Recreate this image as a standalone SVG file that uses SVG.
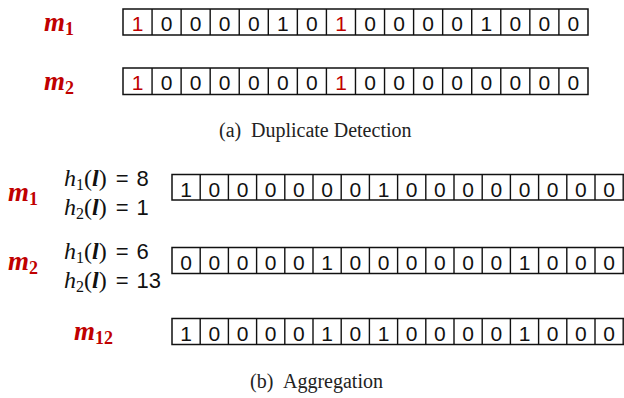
<svg xmlns="http://www.w3.org/2000/svg" width="624" height="398" viewBox="0 0 624 398">
<style>
.c{fill:#fff;stroke:#111;stroke-width:1.5}
.d{font-family:"Liberation Sans",Arial,sans-serif;font-size:21px;fill:#111;text-anchor:middle}
.r{fill:#c00000}
.m{font-family:"Liberation Serif","Times New Roman",serif;font-weight:bold;font-style:italic;font-size:27px;fill:#c00000}
.ms{font-style:normal;font-size:18px}
.h{font-family:"Liberation Serif","Times New Roman",serif;font-size:24px;fill:#111}
.hi{font-style:italic}
.hs{font-size:16px}
.hb{font-weight:bold;font-style:italic}
.hn{font-family:"Liberation Sans",Arial,sans-serif;font-size:22px}
.cap{font-family:"Liberation Serif","Times New Roman",serif;font-size:20px;fill:#222}
</style>
<rect width="624" height="398" fill="#fff"/>

<!-- (a) Duplicate Detection -->
<g id="label-a-m1"><text class="m" x="44" y="31">m<tspan class="ms" dy="4">1</tspan></text></g>
<g id="row-a-m1">
<rect class="c" x="123" y="9" width="465" height="26"/>
<path d="M152.06 9V35M181.12 9V35M210.18 9V35M239.24 9V35M268.3 9V35M297.36 9V35M326.42 9V35M355.48 9V35M384.54 9V35M413.6 9V35M442.66 9V35M471.72 9V35M500.78 9V35M529.84 9V35M558.9 9V35" stroke="#111" stroke-width="1.4"/>
<text class="d" y="30.5"><tspan x="137.5" class="r">1</tspan><tspan x="166.6">0</tspan><tspan x="195.7">0</tspan><tspan x="224.7">0</tspan><tspan x="253.8">0</tspan><tspan x="282.8">1</tspan><tspan x="311.9">0</tspan><tspan x="341" class="r">1</tspan><tspan x="370">0</tspan><tspan x="399.1">0</tspan><tspan x="428.1">0</tspan><tspan x="457.2">0</tspan><tspan x="486.3">1</tspan><tspan x="515.3">0</tspan><tspan x="544.4">0</tspan><tspan x="573.4">0</tspan></text>
</g>

<g id="label-a-m2"><text class="m" x="44" y="90">m<tspan class="ms" dy="4">2</tspan></text></g>
<g id="row-a-m2">
<rect class="c" x="123" y="68" width="465" height="26.5"/>
<path d="M152.06 68V94.5M181.12 68V94.5M210.18 68V94.5M239.24 68V94.5M268.3 68V94.5M297.36 68V94.5M326.42 68V94.5M355.48 68V94.5M384.54 68V94.5M413.6 68V94.5M442.66 68V94.5M471.72 68V94.5M500.78 68V94.5M529.84 68V94.5M558.9 68V94.5" stroke="#111" stroke-width="1.4"/>
<text class="d" y="89.5"><tspan x="137.5" class="r">1</tspan><tspan x="166.6">0</tspan><tspan x="195.7">0</tspan><tspan x="224.7">0</tspan><tspan x="253.8">0</tspan><tspan x="282.8">0</tspan><tspan x="311.9">0</tspan><tspan x="341" class="r">1</tspan><tspan x="370">0</tspan><tspan x="399.1">0</tspan><tspan x="428.1">0</tspan><tspan x="457.2">0</tspan><tspan x="486.3">0</tspan><tspan x="515.3">0</tspan><tspan x="544.4">0</tspan><tspan x="573.4">0</tspan></text>
</g>

<g id="caption-a"><text class="cap" x="219" y="137">(a)</text><text class="cap" x="251" y="137">Duplicate Detection</text></g>

<!-- (b) Aggregation -->
<g id="label-b-m1"><text class="m" x="8" y="201">m<tspan class="ms" dy="4">1</tspan></text></g>
<g id="hash-m1">
<text class="h" x="64" y="186"><tspan class="hi">h</tspan><tspan class="hs" dy="4">1</tspan><tspan dy="-4">(</tspan><tspan class="hb">l</tspan><tspan>)</tspan><tspan class="hn" dx="9">=</tspan><tspan class="hn" dx="8">8</tspan></text>
<text class="h" x="64" y="215"><tspan class="hi">h</tspan><tspan class="hs" dy="4">2</tspan><tspan dy="-4">(</tspan><tspan class="hb">l</tspan><tspan>)</tspan><tspan class="hn" dx="9">=</tspan><tspan class="hn" dx="8">1</tspan></text>
</g>
<g id="row-b-m1">
<rect class="c" x="172" y="174.5" width="460" height="25.5"/>
<path d="M200.2 174.5V200M228.4 174.5V200M256.6 174.5V200M284.8 174.5V200M313 174.5V200M341.2 174.5V200M369.4 174.5V200M397.6 174.5V200M425.8 174.5V200M454 174.5V200M482.2 174.5V200M510.4 174.5V200M538.6 174.5V200M566.8 174.5V200M595 174.5V200M623.2 174.5V200" stroke="#111" stroke-width="1.4"/>
<text class="d" y="196.5"><tspan x="186.1">1</tspan><tspan x="214.3">0</tspan><tspan x="242.5">0</tspan><tspan x="270.7">0</tspan><tspan x="298.9">0</tspan><tspan x="327.1">0</tspan><tspan x="355.3">0</tspan><tspan x="383.5">1</tspan><tspan x="411.7">0</tspan><tspan x="439.9">0</tspan><tspan x="468.1">0</tspan><tspan x="496.3">0</tspan><tspan x="524.5">0</tspan><tspan x="552.7">0</tspan><tspan x="580.9">0</tspan><tspan x="609.1">0</tspan></text>
</g>

<g id="label-b-m2"><text class="m" x="8" y="270">m<tspan class="ms" dy="4">2</tspan></text></g>
<g id="hash-m2">
<text class="h" x="64" y="259"><tspan class="hi">h</tspan><tspan class="hs" dy="4">1</tspan><tspan dy="-4">(</tspan><tspan class="hb">l</tspan><tspan>)</tspan><tspan class="hn" dx="9">=</tspan><tspan class="hn" dx="8">6</tspan></text>
<text class="h" x="64" y="288"><tspan class="hi">h</tspan><tspan class="hs" dy="4">2</tspan><tspan dy="-4">(</tspan><tspan class="hb">l</tspan><tspan>)</tspan><tspan class="hn" dx="9">=</tspan><tspan class="hn" dx="8">13</tspan></text>
</g>
<g id="row-b-m2">
<rect class="c" x="172" y="247.5" width="460" height="26"/>
<path d="M200.2 247.5V273.5M228.4 247.5V273.5M256.6 247.5V273.5M284.8 247.5V273.5M313 247.5V273.5M341.2 247.5V273.5M369.4 247.5V273.5M397.6 247.5V273.5M425.8 247.5V273.5M454 247.5V273.5M482.2 247.5V273.5M510.4 247.5V273.5M538.6 247.5V273.5M566.8 247.5V273.5M595 247.5V273.5M623.2 247.5V273.5" stroke="#111" stroke-width="1.4"/>
<text class="d" y="269.5"><tspan x="186.1">0</tspan><tspan x="214.3">0</tspan><tspan x="242.5">0</tspan><tspan x="270.7">0</tspan><tspan x="298.9">0</tspan><tspan x="327.1">1</tspan><tspan x="355.3">0</tspan><tspan x="383.5">0</tspan><tspan x="411.7">0</tspan><tspan x="439.9">0</tspan><tspan x="468.1">0</tspan><tspan x="496.3">0</tspan><tspan x="524.5">1</tspan><tspan x="552.7">0</tspan><tspan x="580.9">0</tspan><tspan x="609.1">0</tspan></text>
</g>

<g id="label-b-m12"><text class="m" x="74" y="339.5">m<tspan class="ms" dy="4">12</tspan></text></g>
<g id="row-b-m12">
<rect class="c" x="172" y="318.5" width="460" height="26"/>
<path d="M200.2 318.5V344.5M228.4 318.5V344.5M256.6 318.5V344.5M284.8 318.5V344.5M313 318.5V344.5M341.2 318.5V344.5M369.4 318.5V344.5M397.6 318.5V344.5M425.8 318.5V344.5M454 318.5V344.5M482.2 318.5V344.5M510.4 318.5V344.5M538.6 318.5V344.5M566.8 318.5V344.5M595 318.5V344.5M623.2 318.5V344.5" stroke="#111" stroke-width="1.4"/>
<text class="d" y="340.5"><tspan x="186.1">1</tspan><tspan x="214.3">0</tspan><tspan x="242.5">0</tspan><tspan x="270.7">0</tspan><tspan x="298.9">0</tspan><tspan x="327.1">1</tspan><tspan x="355.3">0</tspan><tspan x="383.5">1</tspan><tspan x="411.7">0</tspan><tspan x="439.9">0</tspan><tspan x="468.1">0</tspan><tspan x="496.3">0</tspan><tspan x="524.5">1</tspan><tspan x="552.7">0</tspan><tspan x="580.9">0</tspan><tspan x="609.1">0</tspan></text>
</g>

<g id="caption-b"><text class="cap" x="250" y="388">(b)</text><text class="cap" x="283" y="388">Aggregation</text></g>
</svg>
